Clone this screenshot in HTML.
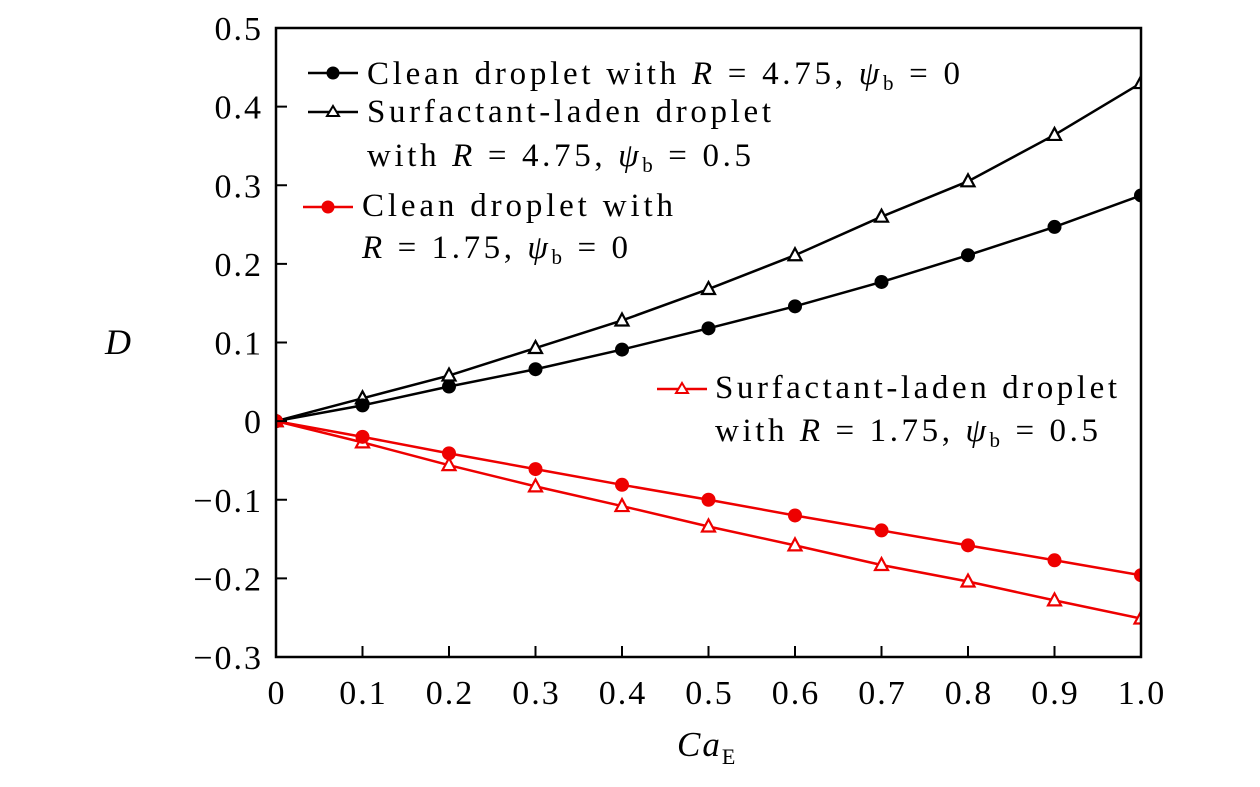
<!DOCTYPE html>
<html><head><meta charset="utf-8"><style>
body{margin:0;background:#fff;}
svg{display:block;font-family:"Liberation Serif",serif;}
</style></head><body>
<svg id="chart" width="1260" height="787">
<defs><clipPath id="pc"><rect x="276" y="28" width="865" height="629"/></clipPath></defs>
<g id="series" clip-path="url(#pc)"></g>
<rect x="276" y="28" width="865" height="629" fill="none" stroke="#000" stroke-width="2.5"/>
<g id="axes"></g>
<text x="118" y="354" font-size="36" font-style="italic" text-anchor="middle">D</text>
<text x="677" y="756" font-size="35"><tspan font-style="italic" letter-spacing="2">Ca</tspan><tspan font-size="22" dy="8">E</tspan></text>
<g font-size="33">
 <g>
  <line x1="308" y1="73" x2="358" y2="73" stroke="#000" stroke-width="2.5"/><circle cx="333" cy="73" r="6.5" fill="#000"/>
  <text x="367" y="84" textLength="593" lengthAdjust="spacing">Clean droplet with <tspan font-style="italic">R</tspan> = 4.75, <tspan font-style="italic">ψ</tspan><tspan font-size="21" dy="6">b</tspan><tspan dy="-6"> = 0</tspan></text>
 </g>
 <g>
  <line x1="308" y1="112" x2="358" y2="112" stroke="#000" stroke-width="2.5"/><path d="M333,106 L339,116 L327,116 Z" fill="#fff" stroke="#000" stroke-width="2"/>
  <text x="367" y="122" textLength="404" lengthAdjust="spacing">Surfactant-laden droplet</text>
  <text x="367" y="166" textLength="384" lengthAdjust="spacing">with <tspan font-style="italic">R</tspan> = 4.75, <tspan font-style="italic">ψ</tspan><tspan font-size="21" dy="6">b</tspan><tspan dy="-6"> = 0.5</tspan></text>
 </g>
 <g>
  <line x1="303" y1="207" x2="353" y2="207" stroke="#e00" stroke-width="2.5"/><circle cx="328" cy="207" r="6.5" fill="#e00"/>
  <text x="362" y="216" textLength="311" lengthAdjust="spacing">Clean droplet with</text>
  <text x="362" y="258" textLength="266" lengthAdjust="spacing"><tspan font-style="italic">R</tspan> = 1.75, <tspan font-style="italic">ψ</tspan><tspan font-size="21" dy="6">b</tspan><tspan dy="-6"> = 0</tspan></text>
 </g>
 <g>
  <line x1="657" y1="389" x2="707" y2="389" stroke="#e00" stroke-width="2.5"/><path d="M682,383 L688,393 L676,393 Z" fill="#fff" stroke="#e00" stroke-width="2"/>
  <text x="715" y="398" textLength="402" lengthAdjust="spacing">Surfactant-laden droplet</text>
  <text x="715" y="441" textLength="383" lengthAdjust="spacing">with <tspan font-style="italic">R</tspan> = 1.75, <tspan font-style="italic">ψ</tspan><tspan font-size="21" dy="6">b</tspan><tspan dy="-6"> = 0.5</tspan></text>
 </g>
</g>
</svg>
<script>
const xs = [0,0.1,0.2,0.3,0.4,0.5,0.6,0.7,0.8,0.9,1.0];
const cleanBig = [0,0.020,0.044,0.066,0.091,0.118,0.146,0.177,0.211,0.247,0.287];
const surfBig = [0,0.029,0.058,0.093,0.128,0.168,0.211,0.260,0.305,0.364,0.430];
const cleanSmall = [0,-0.020,-0.041,-0.061,-0.081,-0.100,-0.120,-0.139,-0.158,-0.177,-0.196];
const surfSmall = [0,-0.027,-0.056,-0.083,-0.108,-0.134,-0.158,-0.183,-0.204,-0.228,-0.251];
const xTicks = [0,0.1,0.2,0.3,0.4,0.5,0.6,0.7,0.8,0.9,1.0];
const xTickLabels = ["0","0.1","0.2","0.3","0.4","0.5","0.6","0.7","0.8","0.9","1.0"];
const yTicks = [-0.3,-0.2,-0.1,0,0.1,0.2,0.3,0.4,0.5];
const yTickLabels = ["\u22120.3","\u22120.2","\u22120.1","0","0.1","0.2","0.3","0.4","0.5"];

const X0=276,X1=1141,Y0=657,Y1=28;
const sx=v=>X0+(v-0)/(1-0)*(X1-X0);
const sy=v=>Y0-(v+0.3)/(0.8)*(Y0-Y1);
const NS="http://www.w3.org/2000/svg";
function mk(t,a,p){const e=document.createElementNS(NS,t);for(const k in a)e.setAttribute(k,a[k]);p.appendChild(e);return e;}
const sg=document.getElementById('series'), ag=document.getElementById('axes');
function drawSeries(vals,color,marker,name){
  const g=mk('g',{},sg);
  
  
  const line=mk('polyline',{points:xs.map((x,i)=>sx(x)+','+sy(vals[i])).join(' '),fill:'none',stroke:color,'stroke-width':2.5},g);
  
  
  xs.forEach((x,i)=>{
    const cx=sx(x),cy=sy(vals[i]);let m;
    if(marker==='c') m=mk('circle',{cx:cx,cy:cy,r:7,fill:color},g);
    else m=mk('path',{d:`M${cx},${cy-7} L${cx+6.5},${cy+5} L${cx-6.5},${cy+5} Z`,fill:'#fff',stroke:color,'stroke-width':2.2},g);
    
    
  });
}
drawSeries(surfBig,'#000','t','surfactant-r475');
drawSeries(cleanBig,'#000','c','clean-r475');
drawSeries(surfSmall,'#e00','t','surfactant-r175');
drawSeries(cleanSmall,'#e00','c','clean-r175');
xTicks.forEach((v,i)=>{
  const x=sx(v);
  const t=mk('line',{x1:x,y1:Y0,x2:x,y2:Y0-11,stroke:'#000','stroke-width':2},ag);
  
  
  const l=mk('text',{x:x+1,y:704,'font-size':34,'letter-spacing':2,'text-anchor':'middle'},ag);l.textContent=xTickLabels[i];
  
  
});
yTicks.forEach((v,i)=>{
  const y=sy(v);
  const t=mk('line',{x1:X0,y1:y,x2:X0+11,y2:y,stroke:'#000','stroke-width':2},ag);
  
  
  const l=mk('text',{x:263,y:y+12,'font-size':34,'letter-spacing':2,'text-anchor':'end'},ag);l.textContent=yTickLabels[i];
  
  
});
</script>
</body></html>
